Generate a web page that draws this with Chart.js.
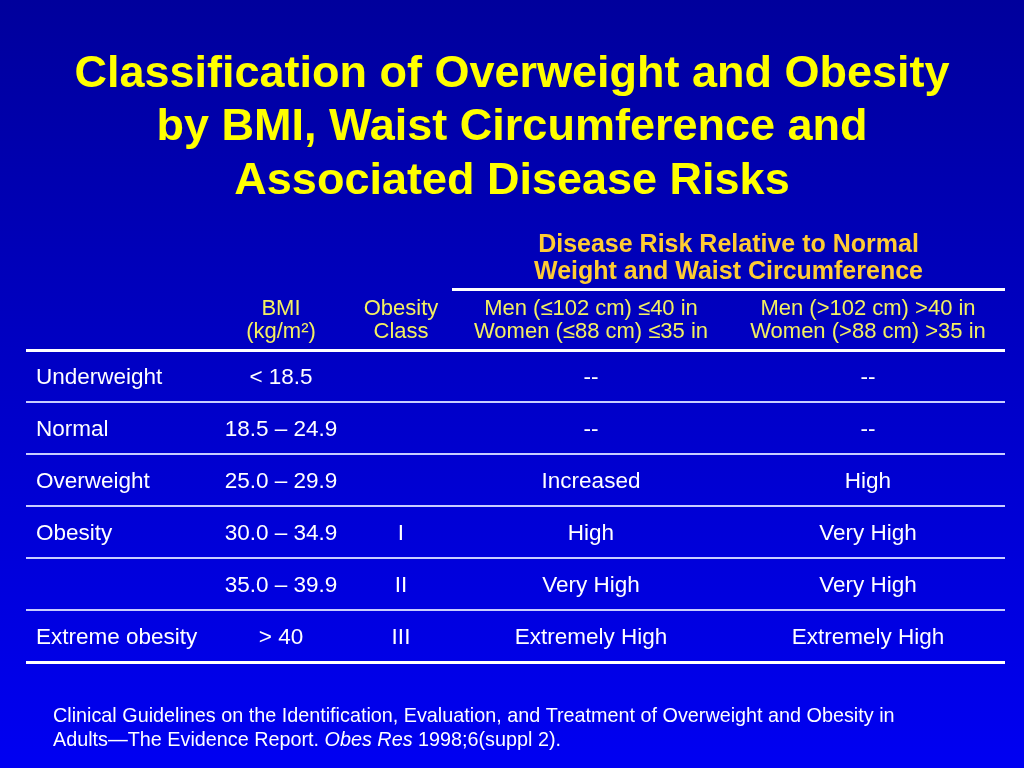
<!DOCTYPE html>
<html>
<head>
<meta charset="utf-8">
<script src="https://cdn.jsdelivr.net/npm/chart.js@4.4.1/dist/chart.umd.min.js"></script>
<style>
html,body{margin:0;padding:0;background:#0000c0;overflow:hidden;}
canvas{display:block;}
</style>
</head>
<body>
<canvas id="c" width="1024" height="768"></canvas>
<script>
// ---- data ----
const titleLines = ["Classification of Overweight and Obesity", "by BMI, Waist Circumference and", "Associated Disease Risks"];
const groupHeader = ["Disease Risk Relative to Normal", "Weight and Waist Circumference"];
const columnHeaders = [
  [],
  ["BMI", "(kg/m\u00B2)"],
  ["Obesity", "Class"],
  ["Men (\u2264102 cm) \u226440 in", "Women (\u226488 cm) \u226435 in"],
  ["Men (>102 cm) >40 in", "Women (>88 cm) >35 in"]
];
const categories = ["Underweight", "Normal", "Overweight", "Obesity", "", "Extreme obesity"];
const bmiRanges = ["< 18.5", "18.5 \u2013 24.9", "25.0 \u2013 29.9", "30.0 \u2013 34.9", "35.0 \u2013 39.9", "> 40"];
const obesityClass = ["", "", "", "I", "II", "III"];
const riskNormalWaist = ["--", "--", "Increased", "High", "Very High", "Extremely High"];
const riskLargeWaist = ["--", "--", "High", "Very High", "Very High", "Extremely High"];
const footnote = ["Clinical Guidelines on the Identification, Evaluation, and Treatment of Overweight and Obesity in",
                  ["Adults\u2014The Evidence Report. ", "Obes Res", " 1998;6(suppl 2)."]];

// ---- layout (table x-units = pixels from table left edge) ----
const colX = [10, 255, 375, 565, 842];
const colAlign = ["left", "center", "center", "center", "center"];
const groupSplitX = 426;
const FONT = "'Liberation Sans', Arial, Helvetica, sans-serif";

const columns = [categories, bmiRanges, obesityClass, riskNormalWaist, riskLargeWaist];
const datasets = columns.map((col, c) => ({
  label: "col" + c,
  texts: col,
  align: colAlign[c],
  data: col.map((t, r) => ({x: colX[c], y: r + 0.5})),
  pointRadius: 0,
  pointHoverRadius: 0,
  showLine: false
}));

const tablePlugin = {
  id: "tablePlugin",
  beforeDraw(chart) {
    const ctx = chart.ctx;
    const g = ctx.createLinearGradient(0, 0, 0, chart.height);
    g.addColorStop(0, "#00009c");
    g.addColorStop(1, "#0000f2");
    ctx.save();
    ctx.fillStyle = g;
    ctx.fillRect(0, 0, chart.width, chart.height);
    ctx.restore();
  },
  afterDraw(chart) {
    const ctx = chart.ctx;
    const xs = chart.scales.x;
    const area = chart.chartArea;
    ctx.save();
    // title
    ctx.fillStyle = "#ffff00";
    ctx.font = "bold 45px " + FONT;
    ctx.textAlign = "center";
    ctx.textBaseline = "alphabetic";
    const tb = [87, 140, 194];
    titleLines.forEach((t, i) => ctx.fillText(t, 512, tb[i]));
    // group header
    ctx.fillStyle = "#ffcc33";
    ctx.font = "bold 25px " + FONT;
    const gx = (xs.getPixelForValue(groupSplitX) + area.right) / 2;
    ctx.fillText(groupHeader[0], gx, 252);
    ctx.fillText(groupHeader[1], gx, 279);
    // line under group header
    ctx.strokeStyle = "#ffffff";
    ctx.lineWidth = 3;
    ctx.beginPath();
    ctx.moveTo(xs.getPixelForValue(groupSplitX), 289.5);
    ctx.lineTo(area.right, 289.5);
    ctx.stroke();
    // column headers
    ctx.fillStyle = "#f4f060";
    ctx.font = "22px " + FONT;
    columnHeaders.forEach((lines, c) => {
      const x = xs.getPixelForValue(colX[c]);
      lines.forEach((t, i) => ctx.fillText(t, x, 315 + i * 23));
    });
    // footnote
    ctx.fillStyle = "#ffffff";
    ctx.textAlign = "left";
    ctx.font = "19.8px " + FONT;
    ctx.fillText(footnote[0], 53, 722);
    let x = 53;
    footnote[1].forEach((part, i) => {
      ctx.font = (i === 1 ? "italic " : "") + "19.8px " + FONT;
      ctx.fillText(part, x, 746);
      x += ctx.measureText(part).width;
    });
    ctx.restore();
  },
  afterDatasetsDraw(chart) {
    const ctx = chart.ctx;
    ctx.save();
    ctx.fillStyle = "#ffffff";
    ctx.font = "22.5px " + FONT;
    ctx.textBaseline = "alphabetic";
    chart.data.datasets.forEach((ds, i) => {
      const meta = chart.getDatasetMeta(i);
      ctx.textAlign = ds.align;
      meta.data.forEach((el, j) => {
        const t = ds.texts[j];
        if (t) ctx.fillText(t, el.x, el.y + 8);
      });
    });
    ctx.restore();
  }
};

new Chart(document.getElementById("c"), {
  type: "scatter",
  data: {datasets},
  options: {
    responsive: false,
    animation: false,
    devicePixelRatio: 1,
    layout: {padding: {left: 26, right: 19, top: 350, bottom: 106}},
    plugins: {legend: {display: false}, tooltip: {enabled: false}, title: {display: false}},
    events: [],
    scales: {
      x: {type: "linear", min: 0, max: 979, display: false},
      y: {
        type: "linear", min: 0, max: 6, reverse: true,
        afterFit(s) { s.width = 0; },
        ticks: {display: false, stepSize: 1},
        border: {display: false},
        grid: {
          drawTicks: false,
          lineWidth: (c) => (c.tick && (c.tick.value === 0 || c.tick.value === 6)) ? 3 : 2,
          color: (c) => (c.tick && (c.tick.value === 0 || c.tick.value === 6)) ? "#ffffff" : "#c8ccff"
        }
      }
    }
  },
  plugins: [tablePlugin]
});
</script>
</body>
</html>
